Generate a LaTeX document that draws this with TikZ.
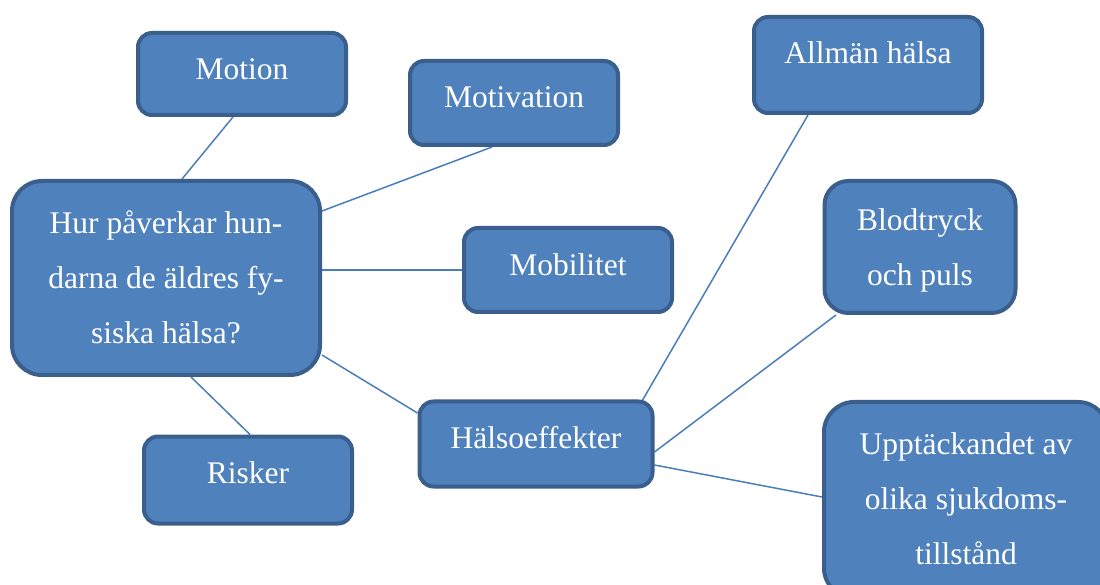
\documentclass[tikz,border=0pt]{standalone}
\usepackage{fontspec}
\setmainfont{Liberation Serif}
\newfontfamily\tnrfont{Liberation Serif}
\usetikzlibrary{backgrounds}
\definecolor{boxfill}{HTML}{4F81BD}
\definecolor{boxline}{HTML}{3A5F8C}
\definecolor{conn}{HTML}{4A7EBB}
\begin{document}
\begin{tikzpicture}[x=1pt,y=1pt,
  box/.style={draw=boxline, line width=4pt, fill=boxfill, rounded corners=#1,
    text=white, align=center, inner sep=0pt, font={\tnrfont\fontsize{31.5}{55}\selectfont}},
  box/.default=14pt,
  conline/.style={draw=conn, line width=1.5pt}]
\useasboundingbox (0,0) rectangle (1100,584);
\clip (0,0) rectangle (1100,584);
\node[box, minimum width=208, minimum height=82] (motion) at (242,510) {\raisebox{10pt}{Motion}};
\node[box, minimum width=208, minimum height=84] (motiv) at (514,481) {\raisebox{11pt}{Motivation}};
\node[box, minimum width=228, minimum height=96] (allman) at (868,519) {\raisebox{24pt}{Allmän hälsa}};
\node[box=30pt, minimum width=308, minimum height=194] (center) at (166,306) {\raisebox{1.5pt}{\begin{tabular}{@{}c@{}}Hur påverkar hun-\\darna de äldres fy-\\siska hälsa?\end{tabular}}};
\node[box, minimum width=208, minimum height=84] (mobil) at (568,314) {\raisebox{10.5pt}{Mobilitet}};
\node[box=24pt, minimum width=191, minimum height=132] (blod) at (920,337) {\raisebox{-3pt}{\begin{tabular}{@{}c@{}}Blodtryck\\och puls\end{tabular}}};
\node[box, minimum width=233, minimum height=85] (halso) at (536,140) {\raisebox{14pt}{Hälsoeffekter}};
\node[box, minimum width=208, minimum height=87] (risker) at (248,104) {\raisebox{15pt}{Risker}};
\node[box=30pt, minimum width=284, minimum height=196] (uppt) at (966,84) {\raisebox{2pt}[\height][\depth]{\begin{tabular}{@{}c@{}}Upptäckandet av\\olika sjukdoms-\\tillstånd\end{tabular}}};
\begin{scope}[on background layer]
\draw[conline] ([xshift=-9pt]motion.south) -- ([xshift=16pt]center.north);
\draw[conline] ([xshift=-22pt]motiv.south) -- ([yshift=67pt]center.east);
\draw[conline] ([yshift=0pt]mobil.west) -- ([yshift=8pt]center.east);
\draw[conline] ([yshift=31pt]halso.west) -- ([yshift=-77pt]center.east);
\draw[conline] ([xshift=2pt]risker.north) -- ([xshift=25pt]center.south);
\draw[conline] ([xshift=-60pt]allman.south) -- ([xshift=104pt,yshift=-5pt]halso.north);
\draw[conline] ([xshift=-84pt]blod.south) -- ([yshift=-8pt]halso.east);
\draw[conline] ([yshift=-21pt]halso.east) -- ([yshift=3pt]uppt.west);
\end{scope}
\end{tikzpicture}
\end{document}
